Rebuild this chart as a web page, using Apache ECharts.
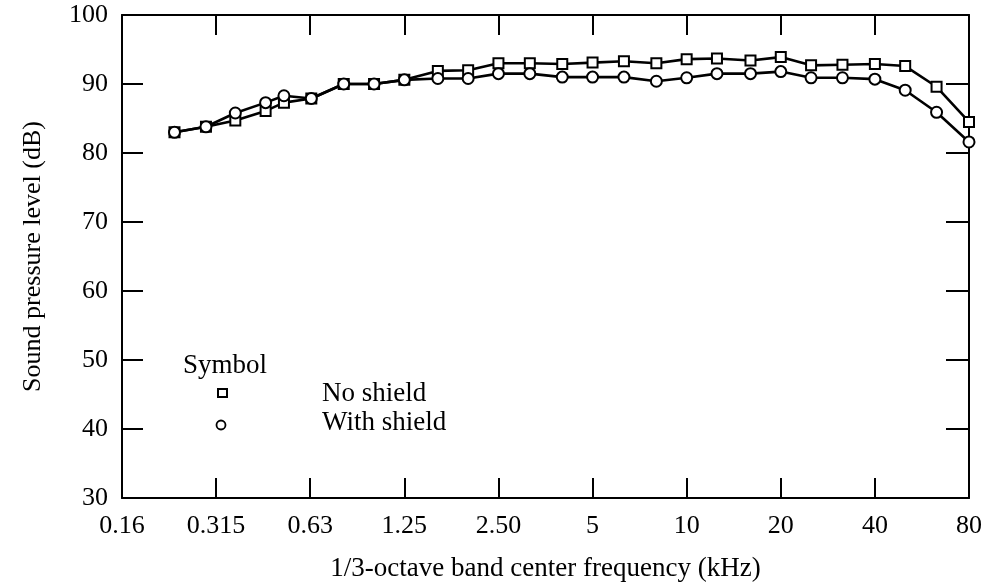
<!DOCTYPE html>
<html>
<head>
<meta charset="utf-8">
<script src="https://cdn.jsdelivr.net/npm/echarts@6/dist/echarts.min.js"></script>
<style>
html,body{margin:0;padding:0;background:#fff;}
#c{width:986px;height:583px;}
</style>
</head>
<body>
<div id="c"></div>
<script>
// Tick labels of the x axis (octave steps, kHz)
var tickLabels = ['0.16','0.315','0.63','1.25','2.50','5','10','20','40','80'];
// 1/3-octave band centre frequencies (kHz) of the plotted points
var freqs = [0.23,0.29,0.36,0.45,0.515,0.63,0.8,1.0,1.25,1.6,2.0,2.5,3.15,4,5,6.3,8,10,12.5,16,20,25,31.5,40,50,63,80];
// Sound pressure level (dB)
var noShield = [83.0,83.8,84.7,86.1,87.3,87.9,90.0,90.0,90.6,91.9,92.0,93.0,93.0,92.9,93.1,93.3,93.0,93.6,93.7,93.4,93.9,92.7,92.8,92.9,92.6,89.6,84.5];
var withShield = [83.0,83.8,85.8,87.3,88.3,87.9,90.0,90.0,90.6,90.8,90.8,91.5,91.5,91.0,91.0,91.0,90.4,90.9,91.5,91.5,91.8,90.9,90.9,90.7,89.1,85.9,81.6];
var seriesNames = ['No shield','With shield'];
var yTicks = [30,40,50,60,70,80,90,100];

var baseFreq = 0.15625; // 80 / 2^9 -> axis origin "0.16"
function octavePos(f){ return Math.log(f/baseFreq)/Math.LN2; }
function pairs(vals){ return freqs.map(function(f,i){ return [octavePos(f), vals[i]]; }); }

var FONT = '"Liberation Serif","DejaVu Serif",serif';
function axisLine(){ return {show:true, onZero:false, lineStyle:{color:'#000', width:2}}; }

var chart = echarts.init(document.getElementById('c'));
chart.setOption({
  animation:false,
  backgroundColor:'#fff',
  grid:{left:122,right:17,top:15,bottom:85, containLabel:false, outerBoundsMode:'none'},
  xAxis:[{
    type:'value', min:0, max:tickLabels.length-1, interval:1, position:'bottom',
    axisLine:axisLine(),
    axisTick:{show:true, inside:true, length:20, lineStyle:{color:'#000',width:2}},
    splitLine:{show:false},
    axisLabel:{color:'#000', fontFamily:FONT, fontSize:26, margin:15,
      formatter:function(v){ return tickLabels[Math.round(v)]; }},
    name:'1/3-octave band center frequency (kHz)', nameLocation:'middle', nameGap:57,
    nameTextStyle:{color:'#000', fontFamily:FONT, fontSize:27}
  },{
    type:'value', min:0, max:tickLabels.length-1, interval:1, position:'top',
    axisLine:axisLine(),
    axisTick:{show:true, inside:true, length:20, lineStyle:{color:'#000',width:2}},
    splitLine:{show:false}, axisLabel:{show:false}
  }],
  yAxis:[{
    type:'value', min:yTicks[0], max:yTicks[yTicks.length-1], interval:10, position:'left',
    axisLine:axisLine(),
    axisTick:{show:true, inside:true, length:21, lineStyle:{color:'#000',width:2}},
    splitLine:{show:false},
    axisLabel:{color:'#000', fontFamily:FONT, fontSize:26, margin:14},
    name:'Sound pressure level (dB)', nameLocation:'middle', nameGap:76, nameRotate:90,
    nameTextStyle:{color:'#000', fontFamily:FONT, fontSize:26}
  },{
    type:'value', min:yTicks[0], max:yTicks[yTicks.length-1], interval:10, position:'right',
    axisLine:axisLine(),
    axisTick:{show:true, inside:true, length:23, lineStyle:{color:'#000',width:2}},
    splitLine:{show:false}, axisLabel:{show:false}
  }],
  series:[{
    name:seriesNames[0], type:'line', data:pairs(noShield),
    symbol:'rect', symbolSize:10,
    lineStyle:{color:'#000', width:2.6},
    itemStyle:{color:'#fff', borderColor:'#000', borderWidth:2},
    z:2
  },{
    name:seriesNames[1], type:'line', data:pairs(withShield),
    symbol:'circle', symbolSize:11,
    lineStyle:{color:'#000', width:2.6},
    itemStyle:{color:'#fff', borderColor:'#000', borderWidth:2},
    z:3
  }],
  graphic:[
    {type:'text', left:183, top:352, style:{text:'Symbol', fontFamily:FONT, fontSize:27, fill:'#000'}},
    {type:'rect', shape:{x:218, y:389, width:9, height:8}, style:{fill:'#fff', stroke:'#000', lineWidth:2}},
    {type:'circle', shape:{cx:221, cy:425, r:4.5}, style:{fill:'#fff', stroke:'#000', lineWidth:1.8}},
    {type:'text', left:322, top:380, style:{text:seriesNames[0], fontFamily:FONT, fontSize:27, fill:'#000'}},
    {type:'text', left:322, top:409, style:{text:seriesNames[1], fontFamily:FONT, fontSize:27, fill:'#000'}}
  ]
});
</script>
</body>
</html>
